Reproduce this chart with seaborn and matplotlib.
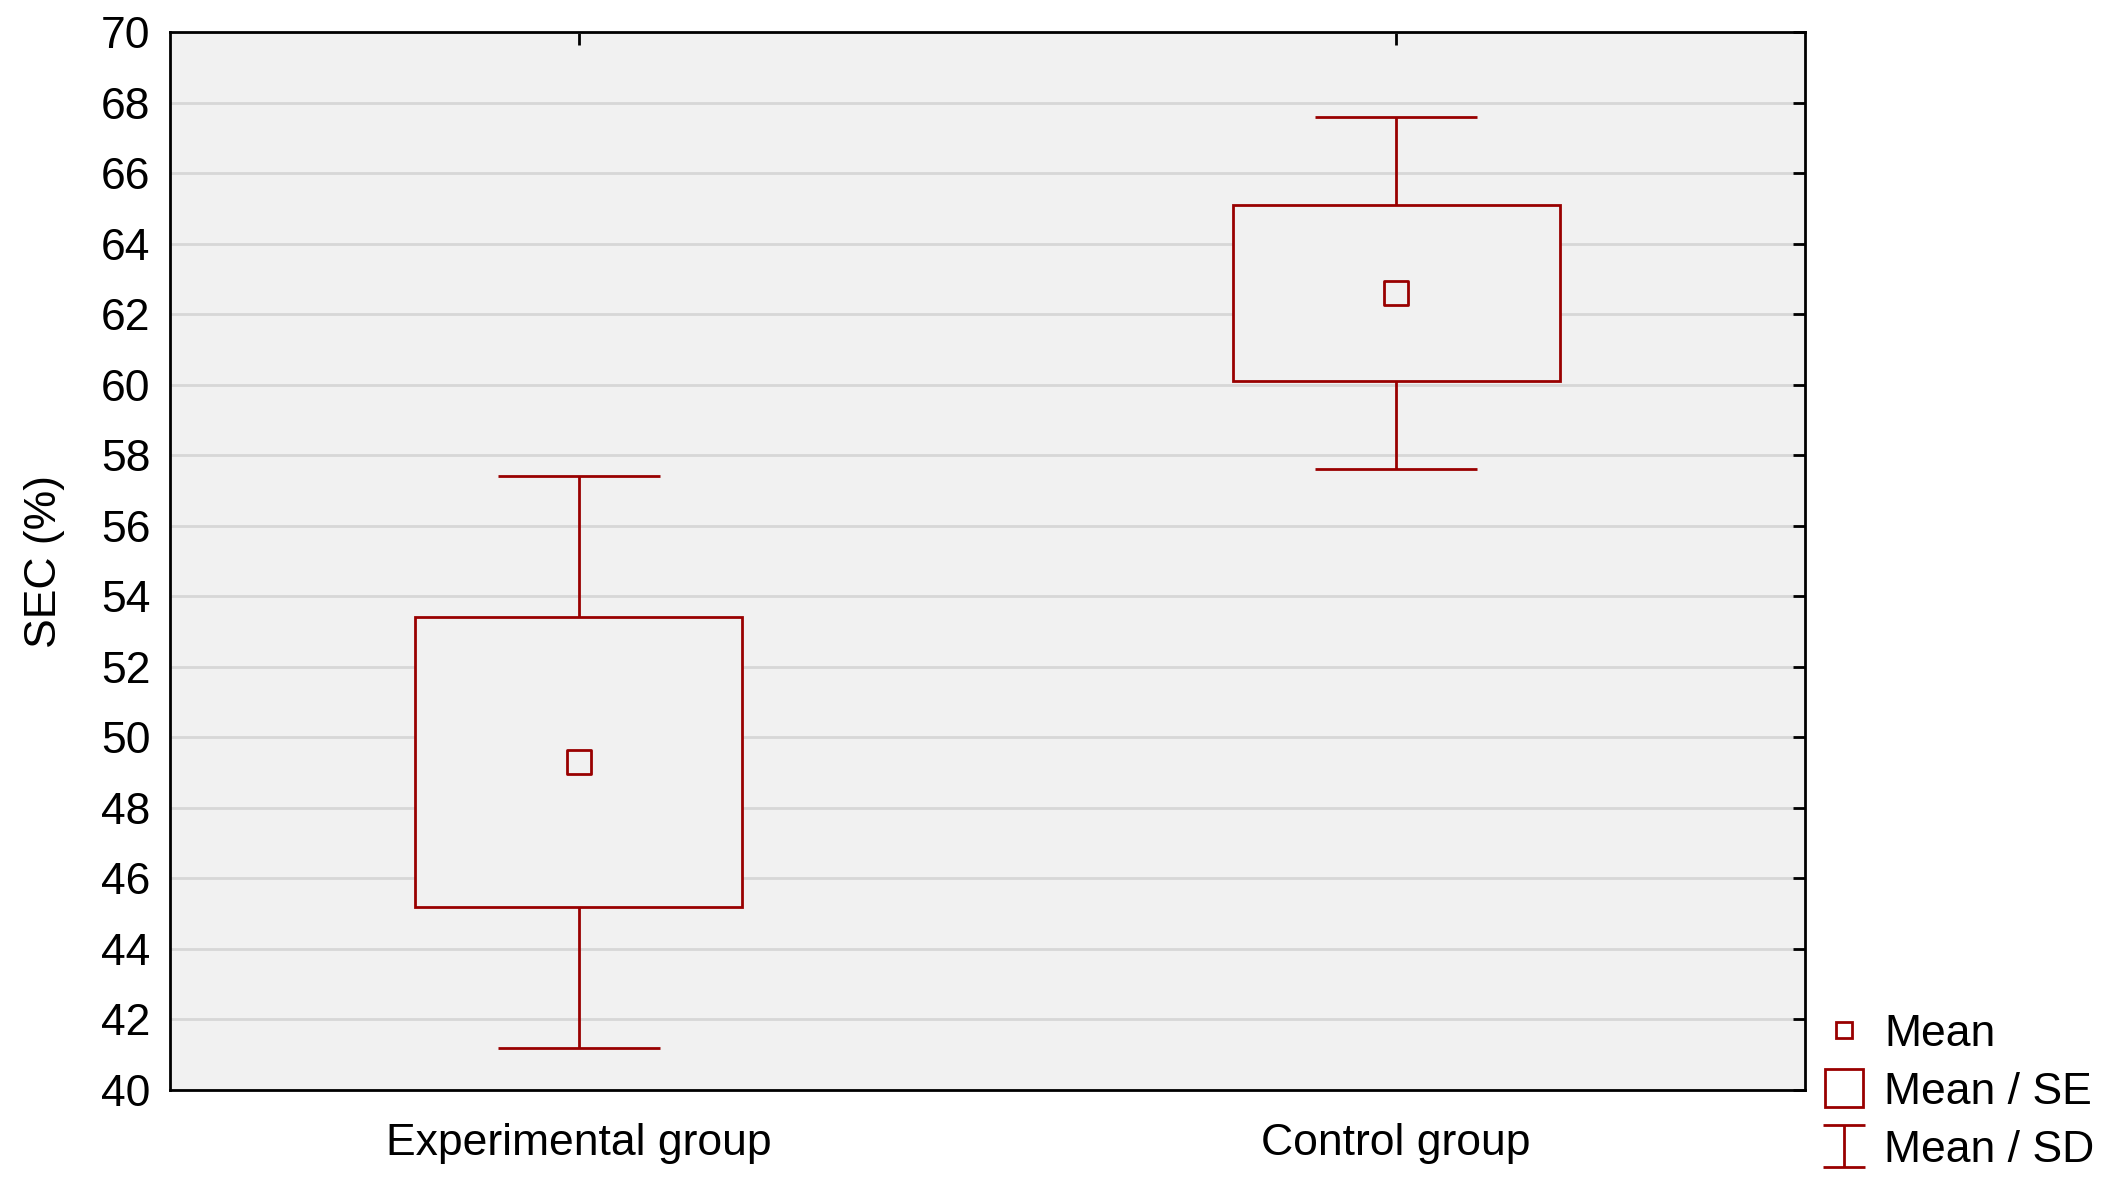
import matplotlib
matplotlib.use("Agg")
import matplotlib.pyplot as plt
import seaborn as sns
import pandas as pd
from matplotlib.lines import Line2D
from matplotlib.path import Path

groups = ["Experimental group", "Control group"]
means = [49.3, 62.6]
se = [4.1, 2.5]
sd = [8.1, 5.0]
yticks = list(range(40, 71, 2))

RED = "#990000"

sns.set_theme(style="white")
plt.rcParams["font.family"] = ["Liberation Sans", "DejaVu Sans"]
plt.rcParams["text.color"] = "black"

fig = plt.figure(figsize=(21.12, 11.88), dpi=100)
ax = fig.add_axes([0.0805, 0.0825, 0.8545 - 0.0805, 0.973 - 0.0825])
ax.set_facecolor("#f1f1f1")

df = pd.DataFrame({"group": groups, "mean": means, "se": se, "sd": sd})

# SD whiskers
ax.errorbar(df["group"], df["mean"], yerr=df["sd"], fmt="none",
            ecolor=RED, elinewidth=2, capsize=58, capthick=2, zorder=2)
# SE boxes
ax.bar(df["group"], [2 * s for s in df["se"]], bottom=[m - s for m, s in zip(df["mean"], df["se"])],
       width=0.4, facecolor="#f1f1f1", edgecolor=RED, linewidth=2, zorder=3)
# Means
sns.scatterplot(data=df, x="group", y="mean", marker="s", s=300, facecolor="none",
                edgecolor=RED, linewidth=2, ax=ax, zorder=4)

ax.set_xlim(-0.5, 1.5)
ax.set_ylim(40, 70)
ax.set_yticks(yticks)
ax.set_yticklabels([str(t) for t in yticks])
ax.yaxis.grid(True, color="#d7d7d7", linewidth=2)
ax.set_axisbelow(True)
for sp in ax.spines.values():
    sp.set_color("black")
    sp.set_linewidth(2)
ax.tick_params(axis="both", direction="in", length=9, width=2, color="black",
               top=True, right=True, labelsize=32, labelcolor="black")
ax.tick_params(axis="y", pad=14)
ax.tick_params(axis="x", pad=24)
ax.set_xlabel("")
ax.set_ylabel("SEC (%)", fontsize=32, color="black", labelpad=26)

ibar = Path([(-1, 1), (1, 1), (0, 1), (0, -1), (-1, -1), (1, -1)],
            [Path.MOVETO, Path.LINETO, Path.MOVETO, Path.LINETO, Path.MOVETO, Path.LINETO])
h_mean = Line2D([], [], linestyle="none", marker="s", markersize=11,
                markerfacecolor="none", markeredgecolor=RED, markeredgewidth=2)
h_se = Line2D([], [], linestyle="none", marker="s", markersize=27,
              markerfacecolor="none", markeredgecolor=RED, markeredgewidth=2)
h_sd = Line2D([], [], linestyle="none", marker=ibar, markersize=30,
              markerfacecolor="none", markeredgecolor=RED, markeredgewidth=2)
fig.legend([h_mean, h_se, h_sd], ["Mean", "Mean / SE", "Mean / SD"],
           loc="upper left", bbox_to_anchor=(0.8605, 0.1465),
           frameon=False, fontsize=32, handlelength=1.2, handletextpad=0.3,
           labelspacing=0.38, borderpad=0, borderaxespad=0, labelcolor="black")

fig.savefig("out.png", dpi=100, facecolor="white")
